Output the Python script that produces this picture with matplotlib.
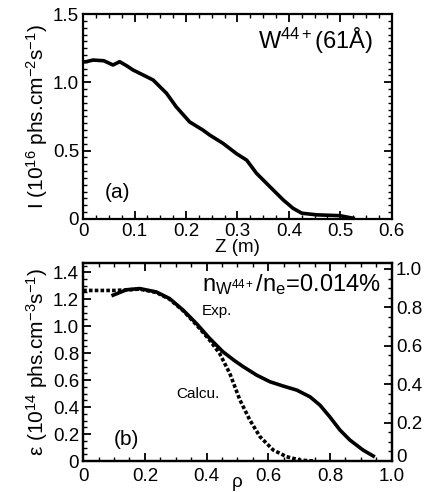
import numpy as np
import matplotlib
matplotlib.use("Agg")
import matplotlib.pyplot as plt
from matplotlib.ticker import MultipleLocator, FuncFormatter
from matplotlib.transforms import ScaledTranslation

plt.rcParams['font.family'] = ['Liberation Sans', 'DejaVu Sans']
plt.rcParams['mathtext.fontset'] = 'custom'
plt.rcParams['mathtext.rm'] = 'Liberation Sans'
plt.rcParams['mathtext.it'] = 'Liberation Sans'
plt.rcParams['mathtext.default'] = 'regular'

# (a) line-integrated brightness vs Z
z_vals = [0.0, 0.006, 0.019, 0.04, 0.058, 0.071, 0.085, 0.097, 0.117, 0.136, 0.162,
          0.181, 0.207, 0.233, 0.246, 0.272, 0.298, 0.318, 0.337, 0.363, 0.389,
          0.408, 0.425, 0.454, 0.499, 0.525]
i_vals = [1.15, 1.151, 1.163, 1.158, 1.127, 1.151, 1.12, 1.09, 1.053, 1.017, 0.92,
          0.82, 0.71, 0.65, 0.614, 0.553, 0.478, 0.43, 0.334, 0.236, 0.139,
          0.078, 0.042, 0.03, 0.024, 0.005]

# (b) emissivity vs rho
rho_exp = [0.097, 0.14, 0.183, 0.237, 0.28, 0.324, 0.367, 0.41, 0.453, 0.49, 0.519,
           0.562, 0.605, 0.648, 0.692, 0.735, 0.767, 0.799, 0.832, 0.864, 0.907, 0.94]
eps_exp = [1.23, 1.27, 1.279, 1.254, 1.205, 1.119, 1.02, 0.909, 0.81, 0.745, 0.699,
           0.637, 0.588, 0.556, 0.526, 0.476, 0.415, 0.328, 0.23, 0.156, 0.081, 0.037]
rho_calc = [0.0, 0.05, 0.1, 0.15, 0.183, 0.237, 0.28, 0.324, 0.367, 0.41, 0.442,
            0.475, 0.508, 0.54, 0.573, 0.616, 0.659, 0.702, 0.745]
eps_calc = [1.265, 1.265, 1.265, 1.27, 1.275, 1.25, 1.2, 1.115, 1.01, 0.896, 0.798,
            0.65, 0.452, 0.304, 0.18, 0.081, 0.032, 0.007, 0.0]


def fmt(v, pos):
    return '0' if abs(v) < 1e-9 else f'{v:.1f}'


def style(ax):
    ax.tick_params(which='both', direction='in', top=True, right=True, labelsize=13.5)
    ax.tick_params(which='major', length=6, width=1.3, pad=3)
    ax.tick_params(which='minor', length=3, width=1)
    for s in ax.spines.values():
        s.set_linewidth(1.6)
    ax.xaxis.set_major_formatter(FuncFormatter(fmt))
    ax.yaxis.set_major_formatter(FuncFormatter(fmt))


fig = plt.figure(figsize=(4.31, 4.92), dpi=100)

ax1 = fig.add_axes([0.193, 0.555, 0.716, 0.4165])
ax1.plot(z_vals, i_vals, color='black', lw=2.6)
ax1.set_xlim(0, 0.6)
ax1.set_ylim(0, 1.5)
ax1.xaxis.set_major_locator(MultipleLocator(0.1))
ax1.xaxis.set_minor_locator(MultipleLocator(0.025))
ax1.yaxis.set_major_locator(MultipleLocator(0.5))
ax1.yaxis.set_minor_locator(MultipleLocator(0.05))
style(ax1)
ax1.set_xlabel('Z (m)', fontsize=13.5, labelpad=-1)
ax1.set_ylabel('I (10$^{16}$ phs.cm$^{-2}$s$^{-1}$)', fontsize=15, labelpad=2)
ax1.text(0.94, 0.87, 'W$^{44+}$(61Å)', transform=ax1.transAxes, ha='right',
         va='center', fontsize=17)
ax1.text(0.07, 0.1, '(a)', transform=ax1.transAxes, fontsize=15)

ax2 = fig.add_axes([0.193, 0.063, 0.716, 0.402])
ax2.plot(rho_exp, eps_exp, color='black', lw=2.6)
ax2.plot(rho_calc, eps_calc, color='black', lw=2.6, ls=(0, (1, 0.6)))
ax2.set_xlim(0, 1.0)
ax2.set_ylim(0, 1.467)
ax2.xaxis.set_major_locator(MultipleLocator(0.2))
ax2.xaxis.set_minor_locator(MultipleLocator(0.05))
ax2.yaxis.set_major_locator(MultipleLocator(0.2))
ax2.yaxis.set_minor_locator(MultipleLocator(0.05))
style(ax2)
ax2.tick_params(which='both', right=False)
ax2.tick_params(axis='x', which='major', pad=5)
ax2.set_xlabel('ρ', fontsize=13.5, labelpad=-8)
ax2.set_ylabel('ε (10$^{14}$ phs.cm$^{-3}$s$^{-1}$)', fontsize=15, labelpad=2)
ax2.text(0.965, 0.89, 'n$_{W^{44+}}$/n$_e$=0.014%', transform=ax2.transAxes,
         ha='right', va='center', fontsize=17)
ax2.text(0.385, 1.08, 'Exp.', fontsize=11)
ax2.text(0.30, 0.47, 'Calcu.', fontsize=11)
ax2.text(0.1, 0.12, '(b)', fontsize=15)

ax3 = ax2.twinx()
ax3.set_ylim(0, 1.03)
ax3.yaxis.set_major_locator(MultipleLocator(0.2))
ax3.yaxis.set_minor_locator(MultipleLocator(0.05))
ax3.tick_params(which='both', direction='in', labelsize=13.5)
ax3.tick_params(which='major', length=6, width=1.3, pad=3)
ax3.tick_params(which='minor', length=3, width=1)
ax3.yaxis.set_major_formatter(FuncFormatter(fmt))
for s in ax3.spines.values():
    s.set_linewidth(1.6)

# lift the right-hand "0" a little so it clears the x label "1.0"
fig.canvas.draw()
for tick in ax3.yaxis.get_major_ticks():
    if abs(tick.get_loc()) < 1e-9:
        lbl = tick.label2
        lbl.set_transform(lbl.get_transform() + ScaledTranslation(0, 4 / 72, fig.dpi_scale_trans))

fig.savefig('out.png', dpi=100)
